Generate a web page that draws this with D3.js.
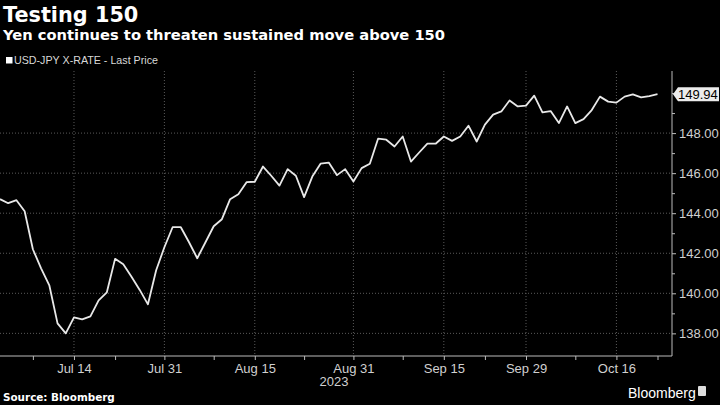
<!DOCTYPE html>
<html>
<head>
<meta charset="utf-8">
<script src="https://cdn.jsdelivr.net/npm/d3@7"></script>
<style>
  html, body { margin: 0; padding: 0; background: #000; }
  svg { display: block; }
</style>
</head>
<body>
<div class="chart"></div>
<script>
// USD-JPY daily closes, business days 3 Jul - 23 Oct 2023
const startDate = '2023-07-03';
const endDate = '2023-10-23';
const prices = [
  144.70, 144.50, 144.65, 144.10, 142.20, 141.25, 140.40, 138.50, 138.00, 138.80,
  138.70, 138.85, 139.65, 140.05, 141.72, 141.45, 140.83, 140.17, 139.45, 141.15,
  142.30, 143.30, 143.30, 142.55, 141.75, 142.55, 143.35, 143.70, 144.70, 144.95,
  145.55, 145.57, 146.33, 145.87, 145.38, 146.20, 145.87, 144.80, 145.83, 146.47,
  146.53, 145.90, 146.20, 145.58, 146.25, 146.47, 147.72, 147.67, 147.33, 147.83,
  146.58, 147.03, 147.47, 147.47, 147.83, 147.61, 147.83, 148.37, 147.58, 148.42,
  148.92, 149.08, 149.63, 149.33, 149.37, 149.87, 149.03, 149.10, 148.50, 149.33,
  148.50, 148.70, 149.15, 149.82, 149.57, 149.52, 149.82, 149.93, 149.78, 149.85,
  149.94
];
const majorTicks = ['2023-07-14', '2023-07-31', '2023-08-15', '2023-08-31', '2023-09-15', '2023-09-29', '2023-10-16'];
const majorLabels = ['Jul 14', 'Jul 31', 'Aug 15', 'Aug 31', 'Sep 15', 'Sep 29', 'Oct 16'];
const minorTicks = ['2023-07-07', '2023-07-21', '2023-08-08', '2023-08-23', '2023-09-08', '2023-09-22', '2023-10-09', '2023-10-23'];
const yearLabel = '2023';
const yMajor = [138, 140, 142, 144, 146, 148];
const yMinor = [139, 141, 143, 145, 147, 149, 150];
const lastPrice = 149.94;

const w = 720;
const h = 405;
const plot = { top: 71, right: 672, bottom: 356, left: 0 };

const fmt = d3.utcFormat('%Y-%m-%d');
const dates = d3.utcDays(new Date(startDate), d3.utcDay.offset(new Date(endDate), 1))
  .filter((d) => d.getUTCDay() !== 0 && d.getUTCDay() !== 6)
  .map(fmt);
const data = dates.map((d, i) => ({ date: d, value: prices[i] }));

const xScale = d3.scalePoint()
  .domain(dates)
  .range([plot.left, 657.5]);
const yScale = d3.scaleLinear()
  .domain([136.87, 151.1])
  .range([plot.bottom, plot.top]);

const svg = d3.select('.chart')
  .append('svg')
  .attr('width', w)
  .attr('height', h)
  .style('background', '#000');

// titles
svg.append('text')
  .attr('x', 3)
  .attr('y', 22)
  .attr('fill', '#fff')
  .style('font', 'bold 20.8px "DejaVu Sans"')
  .text('Testing 150');

svg.append('text')
  .attr('x', 3)
  .attr('y', 40)
  .attr('fill', '#fff')
  .style('font', 'bold 14.7px "DejaVu Sans"')
  .text('Yen continues to threaten sustained move above 150');

// legend
svg.append('rect')
  .attr('x', 6)
  .attr('y', 57)
  .attr('width', 6.5)
  .attr('height', 6.5)
  .attr('fill', '#fff');
svg.append('text')
  .attr('x', 14)
  .attr('y', 64)
  .attr('fill', '#d8d8d8')
  .style('font', '10.7px "Liberation Sans"')
  .text('USD-JPY X-RATE - Last Price');

// grid
svg.append('g')
  .selectAll('line')
  .data(yMajor)
  .enter()
  .append('line')
  .attr('x1', plot.left)
  .attr('x2', plot.right)
  .attr('y1', (d) => yScale(d))
  .attr('y2', (d) => yScale(d))
  .attr('stroke', '#5a5a5a')
  .attr('stroke-dasharray', '1,2');

svg.append('g')
  .selectAll('line')
  .data(majorTicks)
  .enter()
  .append('line')
  .attr('x1', (d) => xScale(d))
  .attr('x2', (d) => xScale(d))
  .attr('y1', plot.top)
  .attr('y2', plot.bottom)
  .attr('stroke', '#5a5a5a')
  .attr('stroke-dasharray', '1,2');

// axes
const axisColor = '#bbb';
const labelColor = '#d0d0d0';

const xAxis = svg.append('g')
  .attr('class', 'x-axis')
  .attr('transform', `translate(0, ${plot.bottom})`)
  .call(d3.axisBottom(xScale)
    .tickValues(majorTicks)
    .tickFormat((d, i) => majorLabels[i])
    .tickSize(4)
    .tickPadding(4));

const xMinor = svg.append('g')
  .attr('transform', `translate(0, ${plot.bottom})`)
  .call(d3.axisBottom(xScale)
    .tickValues(minorTicks)
    .tickFormat('')
    .tickSize(4));

const yAxis = svg.append('g')
  .attr('class', 'y-axis')
  .attr('transform', `translate(${plot.right}, 0)`)
  .call(d3.axisRight(yScale)
    .tickValues(yMajor)
    .tickFormat(d3.format('.2f'))
    .tickSize(4)
    .tickPadding(3));

const yMinorAxis = svg.append('g')
  .attr('transform', `translate(${plot.right}, 0)`)
  .call(d3.axisRight(yScale)
    .tickValues(yMinor)
    .tickFormat('')
    .tickSize(3));

[xAxis, xMinor, yAxis, yMinorAxis].forEach((g) => {
  g.select('.domain').remove();
  g.selectAll('line').attr('stroke', axisColor);
  g.selectAll('text')
    .attr('fill', labelColor)
    .style('font', '13px "Liberation Sans"');
});

svg.append('path')
  .attr('d', `M${plot.left},${plot.bottom}H${plot.right}V${plot.top}`)
  .attr('fill', 'none')
  .attr('stroke', axisColor)
  .attr('stroke-width', 1);

svg.append('text')
  .attr('x', 334)
  .attr('y', 386)
  .attr('text-anchor', 'middle')
  .attr('fill', labelColor)
  .style('font', '13px "Liberation Sans"')
  .text(yearLabel);

// price line
const line = d3.line()
  .x((d) => xScale(d.date))
  .y((d) => yScale(d.value));

svg.append('path')
  .datum(data)
  .attr('d', line)
  .attr('fill', 'none')
  .attr('stroke', '#e8e8e8')
  .attr('stroke-width', 1.8)
  .attr('stroke-linejoin', 'round');

// last price tag
const ly = yScale(lastPrice);
svg.append('path')
  .attr('d', `M${plot.right + 1},${ly}L${plot.right + 6},${ly - 7}H719V${ly + 7}H${plot.right + 6}Z`)
  .attr('fill', '#ececec');
svg.append('text')
  .attr('x', 678)
  .attr('y', ly + 4.5)
  .attr('fill', '#000')
  .style('font', '13px "Liberation Sans"')
  .text(d3.format('.2f')(lastPrice));

// footer
svg.append('text')
  .attr('x', 3)
  .attr('y', 401)
  .attr('fill', '#fff')
  .style('font', 'bold 10.4px "DejaVu Sans"')
  .text('Source: Bloomberg');

svg.append('text')
  .attr('x', 628)
  .attr('y', 398)
  .attr('fill', '#fff')
  .style('font', '14px "Liberation Sans"')
  .text('Bloomberg');

svg.append('rect')
  .attr('x', 698)
  .attr('y', 386)
  .attr('width', 8)
  .attr('height', 10)
  .attr('rx', 1)
  .attr('fill', '#ddd');
</script>
</body>
</html>
